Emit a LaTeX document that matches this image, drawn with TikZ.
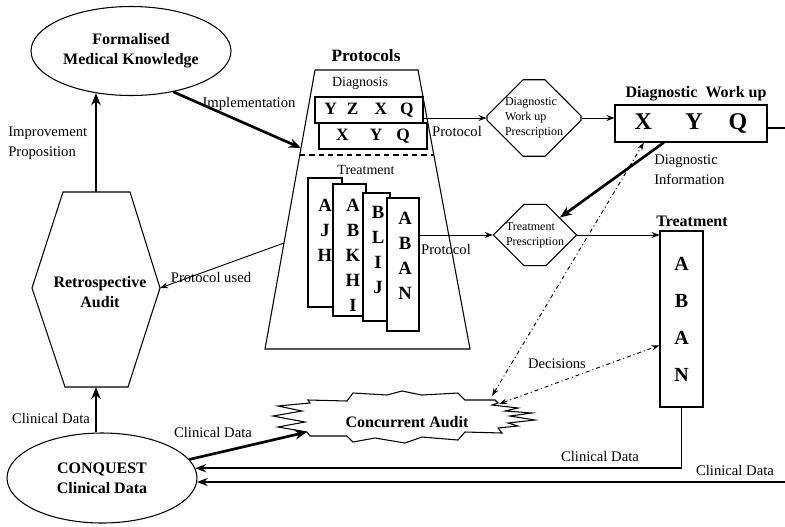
\documentclass[tikz,border=0pt]{standalone}
\usepackage{fontspec}
\setmainfont{Liberation Serif}
\usetikzlibrary{arrows.meta,shapes.geometric,shapes.misc,positioning}

\tikzset{
  oval/.style={
    ellipse,
    draw,
    line width=0.8pt,
    align=center,
    inner sep=0,
    font=\fontsize{12}{15}\selectfont\bfseries
  },
}
\tikzset{
  lbox/.style={
    rectangle,
    draw,
    fill=white,
    line width=0.8pt,
    inner sep=0
  },
}
\tikzset{
  presc/.style={
    chamfered rectangle,
    chamfered rectangle xsep=13.5pt,
    chamfered rectangle ysep=13.5pt,
    draw,
    line width=0.8pt,
    align=left,
    inner sep=0,
    font=\fontsize{9}{11.25}\selectfont
  },
}
\tikzset{
  hdr/.style={
    font=\fontsize{12}{15}\selectfont\bfseries,
    inner sep=0
  },
  sub/.style={
    font=\fontsize{10.5}{13}\selectfont,
    inner sep=0
  },
  lbl/.style={
    font=\fontsize{11}{15}\selectfont,
    align=left,
    inner sep=0
  },
  cardtxt/.style={
    font=\fontsize{14}{18.75}\selectfont\bfseries,
    align=center,
    inner sep=0,
    anchor=north
  },
  arr/.style={-{Stealth[length=6pt,width=4.5pt]}, line width=0.7pt},
  medarr/.style={-{Stealth[length=8pt,width=6pt]}, line width=1.4pt},
  thickarr/.style={-{Stealth[length=9pt,width=7pt]}, line width=2pt},
  dashdot/.style={{Stealth[length=6pt,width=4pt]}-{Stealth[length=6pt,width=4pt]},
    line width=0.7pt, dash pattern=on 3pt off 2.2pt on 0.8pt off 2.2pt}
}

\begin{document}
\begin{tikzpicture}[x=0.75pt,y=-0.75pt]
  \useasboundingbox (0,0) rectangle (785,526);

  % protocols
  \draw[line width=0.8pt] (315,70) -- (418,70) -- (470,349) -- (265,349) -- cycle;
  \coordinate (implT) at (301,148);
  \coordinate (protL) at (284,243);
  \coordinate (dashL) at (300,155);
  \coordinate (dashR) at (434,155);
  \draw[line width=0.8pt, dash pattern=on 4pt off 3pt] (dashL) -- (dashR);
  \node[hdr, font=\fontsize{13}{15}\selectfont\bfseries] (prot) at (366,56) {Protocols};
  \node[sub] (diag) at (360,83) {Diagnosis};
  \node[lbox, minimum width=81pt, minimum height=19.5pt, font=\fontsize{13}{15}\selectfont\bfseries] (xyq) at (373,136) {X\hspace{16pt}Y\hspace{10.5pt}Q};
  \node[lbox, minimum width=81pt, minimum height=19.5pt, font=\fontsize{13}{15}\selectfont\bfseries] (yzxq) at (369,110) {Y\hspace{7.5pt}Z\hspace{12pt}X\hspace{9.75pt}Q};
  \node[sub] (treat) at (366,170) {Treatment};

  \node[lbox, minimum width=25.5pt, minimum height=96.75pt] (card1) at (325,242.5) {};
  \node[cardtxt] (card1-l) at (325,199) {A\\J\\H};
  \node[lbox, minimum width=24.75pt, minimum height=99pt] (card2) at (349.5,250) {};
  \node[cardtxt] (card2-l) at (353,199) {A\\B\\K\\H\\I};
  \node[lbox, minimum width=20.25pt, minimum height=96pt] (card3) at (376.5,257) {};
  \node[cardtxt] (card3-l) at (378,206) {B\\L\\I\\J};
  \node[lbox, minimum width=24pt, minimum height=99.75pt] (card4) at (403,264.5) {};
  \node[cardtxt] (card4-l) at (405,212) {A\\B\\A\\N};

  % prescriptions
  \node[presc, minimum width=60.75pt, minimum height=48.75pt] (dwp) at (534,118) {Diagnostic\\Work up\\Prescription};
  \node[presc, minimum width=60pt, minimum height=45pt] (tp) at (535,235) {Treatment\\Prescription};

  \node[hdr] (dwuT) at (696,94) {Diagnostic\ \ Work up};
  \node[lbox, minimum width=114pt, minimum height=27.75pt, font=\fontsize{18}{20}\selectfont\bfseries] (dwu) at (691,123.5) {X\hspace{25pt}Y\hspace{19.5pt}Q};
  \coordinate (outR) at (785,128);

  \node[hdr] (trtT) at (692,221) {Treatment};
  \node[lbox, minimum width=32.25pt, minimum height=132pt, align=center, font=\fontsize{15}{27.75}\selectfont\bfseries] (trt) at (681.5,319) {A\\B\\A\\N};

  % knowledge and audit
  \node[oval, minimum width=150pt, minimum height=66.75pt] (fmk) at (131,51) {Formalised\\Medical Knowledge};
  \draw[line width=0.8pt] (63,192) -- (130,192) -- (160,288) -- (128,387) -- (65,387) -- (32,288) -- cycle;
  \coordinate (hexT) at (96,192);
  \coordinate (hexR) at (160,288);
  \coordinate (hexB) at (96,387);
  \node[hdr, align=center] (retro) at (100,292) {Retrospective\\Audit};
  \node[oval, minimum width=142.5pt, minimum height=67.5pt] (cq) at (102,478) {CONQUEST\\Clinical Data};

  \draw[line width=0.8pt] (308,400) -- (347,401) -- (353,393) -- (387,395) -- (402,391) -- (422,395)
    -- (458,393) -- (465,400) -- (495,400) -- (498,403) -- (492,405) -- (518,408) -- (505,411)
    -- (532,413) -- (510,416) -- (535,420) -- (508,423) -- (518,426) -- (498,428) -- (502,433)
    -- (465,432) -- (458,440) -- (422,437) -- (405,443) -- (375,438) -- (353,442) -- (347,436)
    -- (310,436) -- (307,432) -- (278,427) -- (305,422) -- (273,416) -- (302,411) -- (278,406)
    -- (310,403) -- cycle;
  \node[hdr] (conc) at (407,422) {Concurrent Audit};
  \coordinate (concL) at (307,432);
  \coordinate (concTR) at (492,396);
  \coordinate (concR) at (499,404);
  \coordinate (inR) at (785,482);

  % connectors
  \draw[thickarr] (hexT) -- (hexT |- fmk.230);
  \draw[thickarr] (fmk.-44) -- (implT);
  \draw[arr] (protL) -- (hexR);
  \draw[arr] (dwp.west -| yzxq.east) -- (dwp.west);
  \draw[arr] (dwp.east) -- (dwp.east -| dwu.west);
  \draw[line width=1.4pt] (dwu.east |- outR) -- (outR);
  \draw[thickarr] (dwu.215) -- (tp.35);
  \draw[arr] (tp.west -| card4.east) -- (tp.west);
  \draw[arr] (tp.east) -- (tp.east -| trt.west);
  \draw[medarr] (trt.south) |- (cq.6);
  \draw[medarr] (inR) -- (inR -| cq.-3);
  \draw[thickarr] (cq.north -| hexB) -- (hexB);
  \draw[thickarr] (cq.12) -- (concL);
  \draw[dashdot] (concTR) -- (dwu.202);
  \draw[dashdot] (concR) -- (trt.230);

  % labels
  \node[lbl, anchor=west] (impr) at (8,143) {Improvement\\Proposition};
  \node[lbl] (impl) at (249,104) {Implementation};
  \node[lbl] (pused) at (211,277) {Protocol used};
  \node[lbl] (proto1) at (457,131) {Protocol};
  \node[lbl] (proto2) at (446,249) {Protocol};
  \node[lbl, anchor=west] (dinfo) at (654,170) {Diagnostic\\Information};
  \node[lbl] (dec) at (557,364) {Decisions};
  \node[lbl] (cd1) at (51,418) {Clinical Data};
  \node[lbl] (cd2) at (213,432) {Clinical Data};
  \node[lbl] (cd3) at (600,456) {Clinical Data};
  \node[lbl] (cd4) at (735,470) {Clinical Data};
\end{tikzpicture}
\end{document}
